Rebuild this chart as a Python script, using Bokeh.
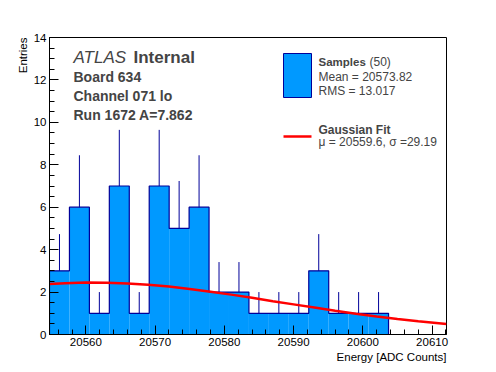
import math
from bokeh.plotting import figure
from bokeh.models import Range1d, SingleIntervalTicker, Label, BoxAnnotation, Title
from bokeh.embed import file_html
from bokeh.resources import INLINE

# ---- data ----
bin_left = 20554.75
bin_width = 2.88
counts = [3, 6, 1, 7, 1, 7, 5, 6, 2, 2, 1, 1, 1, 3, 1, 1, 1]

fit_x = [20554.75, 20557, 20560, 20563, 20566, 20569, 20572, 20575, 20578, 20581,
         20584, 20587, 20590, 20593, 20596, 20599, 20602, 20605, 20608, 20612.08]
fit_y = [2.38, 2.42, 2.45, 2.44, 2.40, 2.34, 2.26, 2.14, 2.02, 1.88,
         1.73, 1.57, 1.42, 1.27, 1.12, 0.98, 0.85, 0.73, 0.62, 0.49]

x_ticks_interval = 10
y_ticks_interval = 2

x_title = "Energy [ADC Counts]"
y_title = "Entries"
title_lines = ["Board 634", "Channel 071 lo", "Run 1672 A=7.862"]
legend_hist = ["Mean = 20573.82", "RMS = 13.017"]
legend_fit = "\u03bc = 20559.6, \u03c3 =29.19"

X0, X1 = 20554.75, 20612.08
Y0, Y1 = 0, 14

FONT = "Liberation Sans"
FILL = "#0099ff"
NAVY = "#000099"

# frame geometry (image pixels) used to place annotations
FL, FR, FT, FB = 49.0, 446.0, 37.0, 334.0


def dx(px):
    return X0 + (px - FL) * (X1 - X0) / (FR - FL)


def dy(py):
    return Y0 + (FB - py) * (Y1 - Y0) / (FB - FT)


p = figure(frame_width=397, frame_height=297, min_border_left=49, min_border_right=45,
           min_border_top=37, min_border_bottom=34,
           x_range=Range1d(X0, X1), y_range=Range1d(Y0, Y1),
           output_backend="svg", toolbar_location=None)
p.background_fill_color = "white"
p.border_fill_color = "white"
p.outline_line_color = "black"
p.outline_line_width = 1
p.xgrid.visible = False
p.ygrid.visible = False

lefts = [bin_left + i * bin_width for i in range(len(counts))]
rights = [l + bin_width for l in lefts]
centers = [l + bin_width / 2 for l in lefts]
err_lo = [c - math.sqrt(c) for c in counts]
err_hi = [c + math.sqrt(c) for c in counts]

# error bars (lower half hidden by the fill)
p.segment(x0=centers, y0=err_lo, x1=centers, y1=err_hi, line_color=NAVY, line_width=1)
# filled bars
p.quad(left=lefts, right=rights, bottom=0, top=counts, fill_color=FILL, line_color=None)
# histogram contour
ox, oy = [lefts[0]], [0]
for l, r, c in zip(lefts, rights, counts):
    ox += [l, r]
    oy += [c, c]
ox.append(rights[-1])
oy.append(0)
p.line(ox, oy, line_color=NAVY, line_width=1.2)

# gaussian fit
p.line(fit_x, fit_y, line_color="red", line_width=2.5)

for ax, iv, nm in ((p.xaxis, x_ticks_interval, 5), (p.yaxis, y_ticks_interval, 4)):
    ax.ticker = SingleIntervalTicker(interval=iv, num_minor_ticks=nm)
    ax.major_tick_in = 9
    ax.major_tick_out = 0
    ax.minor_tick_in = 5
    ax.minor_tick_out = 0
    ax.major_label_text_font = FONT
    ax.major_label_text_font_size = "11.5px"
    ax.major_label_text_color = "black"
    ax.major_label_standoff = 3
    ax.axis_line_color = "black"
    ax.major_tick_line_color = "black"
    ax.minor_tick_line_color = "black"

# axis titles (as side-panel titles so they can sit at the axis ends)
p.add_layout(Title(text=x_title, align="right", text_font=FONT, text_font_size="11.5px",
                   text_font_style="normal", text_color="black", standoff=0, offset=0), "below")
p.add_layout(Title(text=y_title, align="right", text_font=FONT, text_font_size="11.5px",
                   text_font_style="normal", text_color="black", standoff=4, offset=0), "left")

# ATLAS label block
p.add_layout(Label(x=dx(73), y=dy(57), text="ATLAS", text_font=FONT, text_font_style="italic",
                   text_font_size="17px", text_baseline="middle"))
p.add_layout(Label(x=dx(133), y=dy(57), text="Internal", text_font=FONT, text_font_style="bold",
                   text_font_size="17px", text_baseline="middle"))
for i, t in enumerate(title_lines):
    p.add_layout(Label(x=dx(73), y=dy(76 + 19 * i), text=t, text_font=FONT,
                       text_font_style="bold", text_font_size="14px", text_baseline="middle"))

# legend
p.add_layout(BoxAnnotation(left=dx(283), right=dx(311), top=dy(53), bottom=dy(97),
                           fill_color=FILL, fill_alpha=1, line_color=NAVY, line_width=1,
                           line_alpha=1))
p.add_layout(Label(x=dx(318), y=dy(61.5), text="Samples", text_font=FONT, text_font_style="bold",
                   text_font_size="11.5px", text_baseline="middle"))
p.add_layout(Label(x=dx(369), y=dy(61.5), text="(50)", text_font=FONT,
                   text_font_size="12px", text_baseline="middle"))
for i, t in enumerate(legend_hist):
    p.add_layout(Label(x=dx(318), y=dy(76.5 + 14 * i), text=t, text_font=FONT,
                       text_font_size="12px", text_baseline="middle"))
p.add_layout(BoxAnnotation(left=dx(283), right=dx(311), top=dy(134.8), bottom=dy(137.2),
                           fill_color="red", fill_alpha=1, line_color=None))
p.add_layout(Label(x=dx(318), y=dy(129), text="Gaussian Fit", text_font=FONT,
                   text_font_style="bold", text_font_size="12px", text_baseline="middle"))
p.add_layout(Label(x=dx(318), y=dy(141.5), text=legend_fit, text_font=FONT,
                   text_font_size="12px", text_baseline="middle"))

open("out.html", "w").write(file_html(p, INLINE))
